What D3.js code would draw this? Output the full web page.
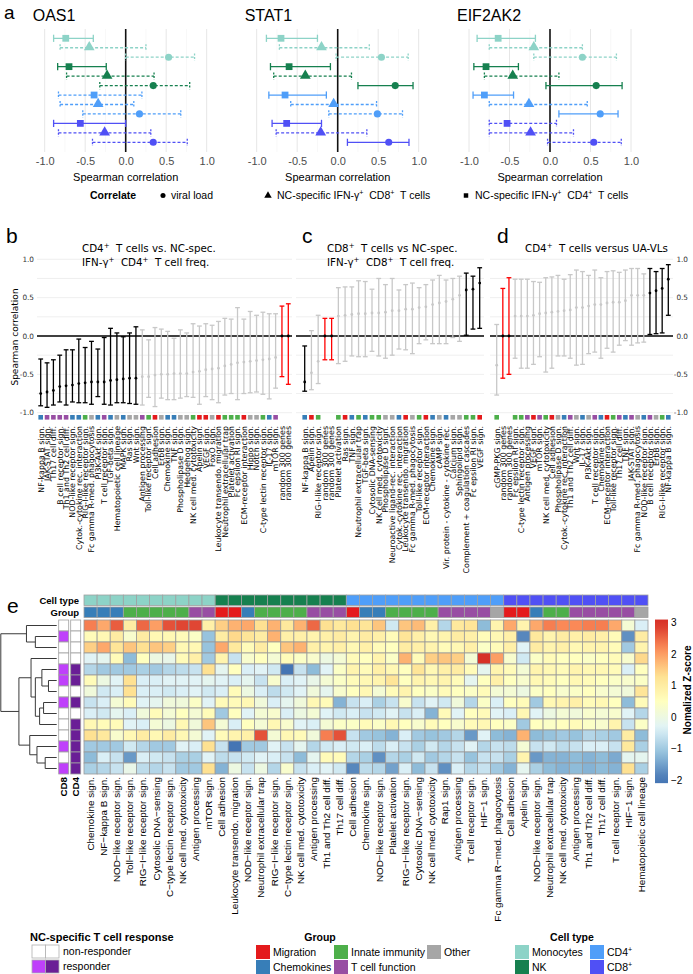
<!DOCTYPE html>
<html><head><meta charset="utf-8">
<script src="https://cdn.jsdelivr.net/npm/d3@7"></script>
<style>body{margin:0;background:#fff}svg{display:block}text{white-space:pre}</style>
</head><body>
<svg id="c" width="693" height="974"></svg>
<script>
// ---------------- DATA ----------------
// Panel a: rows per gene, order per cell type: CD4 NC-spec (square), CD8 NC-spec (triangle), viral load (circle)
// [estimate, lower, upper, solid(1)/dashed(0)]
const aGenes = ["OAS1","STAT1","EIF2AK2"];
const aCellTypes = ["Monocytes","NK","CD4","CD8"];
const aShapes = ["square","triangle","circle"];
const oas1 = [[-0.74,-0.89,-0.40,1],[-0.45,-0.81,0.25,0],[0.53,0.00,0.85,0],
  [-0.70,-0.84,-0.24,1],[-0.23,-0.73,0.35,0],[0.34,-0.32,0.79,0],
  [-0.39,-0.83,0.20,0],[-0.34,-0.81,0.10,0],[0.17,-0.53,0.68,0],
  [-0.56,-0.89,0.00,1],[-0.26,-0.83,0.31,0],[0.34,-0.41,0.76,0]];
const stat1 = [[-0.70,-0.88,-0.25,1],[-0.20,-0.72,0.39,0],[0.54,-0.02,0.87,0],
  [-0.60,-0.83,-0.09,1],[-0.40,-0.79,0.17,0],[0.71,0.25,0.93,1],
  [-0.65,-0.85,-0.14,1],[-0.05,-0.58,0.48,0],[0.49,-0.11,0.80,0],
  [-0.63,-0.81,-0.20,1],[-0.21,-0.76,0.36,0],[0.63,0.12,0.88,1]];
const eif2ak2 = [[-0.64,-0.90,-0.18,1],[-0.20,-0.75,0.40,0],[0.40,-0.20,0.82,0],
  [-0.79,-0.94,-0.39,1],[-0.46,-0.81,0.11,0],[0.57,-0.05,0.89,1],
  [-0.81,-0.95,-0.45,1],[-0.26,-0.75,0.46,0],[0.62,0.11,0.84,1],
  [-0.53,-0.75,0.08,0],[-0.24,-0.75,0.29,0],[0.54,-0.03,0.88,0]];
const aTicks = [-1,-0.5,0,0.5,1];

// Panel b
const bLabels = ["NF-kappa B sign.","JAK-STAT sign.","Th17 cell diff.","B cell receptor sign.","Th1 and Th2 cell diff.","NOD-like receptor sign.","Cytok.-cytokine rec. interaction","RIG-I-like receptor sign.","Fc gamma R-med. phagocytosis","PI3K-Akt sign.","T cell receptor sign.","TGF-beta sign.","Hematopoietic cell lineage","MAPK sign.","Ras sign.","Wnt sign.","Antigen processing","Toll-like receptor sign.","Cell adhesion","ErbB sign.","Chemokine sign.","TNF sign.","Phospholipase D sign.","Hedgehog sign.","NK cell med. cytotoxicity","Apelin sign.","VEGF sign.","FoxO sign.","Leukocyte transendo. migration","Neutrophil extracellular trap","Platelet activation","Fc epsilon RI sign.","ECM-receptor interaction","Hippo sign.","Notch sign.","C-type lectin receptor sign.","IL-17 sign.","mTOR sign.","random 300 genes","random 300 genes"];
const bEst = [-0.75,-0.73,-0.71,-0.66,-0.65,-0.64,-0.62,-0.61,-0.60,-0.60,-0.60,-0.58,-0.57,-0.56,-0.55,-0.55,-0.53,-0.53,-0.51,-0.50,-0.50,-0.49,-0.49,-0.49,-0.47,-0.46,-0.44,-0.43,-0.42,-0.39,-0.37,-0.35,-0.34,-0.33,-0.32,-0.31,-0.30,-0.28,0,0];
const bLo = [-0.91,-0.93,-0.90,-0.86,-0.90,-0.86,-0.87,-0.87,-0.89,-0.79,-0.89,-0.90,-0.87,-0.87,-0.88,-0.89,-0.90,-0.80,-0.92,-0.81,-0.83,-0.83,-0.81,-0.79,-0.80,-0.89,-0.79,-0.83,-0.87,-0.77,-0.75,-0.83,-0.75,-0.74,-0.73,-0.76,-0.82,-0.68,-0.53,-0.63];
const bHi = [-0.30,-0.35,-0.31,-0.25,-0.18,-0.18,-0.04,-0.15,-0.07,-0.17,-0.02,0.10,0.04,-0.01,0.04,0.12,0.08,-0.05,0.11,0.09,0.06,-0.03,0.08,0.04,0.16,0.13,0.16,0.14,0.19,0.23,0.22,0.37,0.22,0.32,0.27,0.31,0.29,0.29,0.39,0.42];
const bClass = ["k","k","k","k","k","k","k","k","k","k","k","k","k","k","k","k","g","g","g","g","g","g","g","g","g","g","g","g","g","g","g","g","g","g","g","g","g","g","r","r"];
const bGroup = ["C","T","T","T","T","C","C","I","O","C","T","C","O","C","O","O","T","I","M","O","C","C","O","O","I","M","M","O","M","I","I","I","M","O","O","I","C","T","",""];

// Panel c
const cLabels = ["NF-kappa B sign.","Apelin sign.","RIG-I-like receptor sign.","random 300 genes","random 300 genes","Platelet activation","Ras sign.","TNF sign.","Neutrophil extracellular trap","TGF-beta sign.","Cytosolic DNA-sensing","NK cell med. cytotoxicity","Phospholipase D sign.","Neuroactive ligand-rec. interaction","Cytok.-cytokine rec. interaction","Leukocyte transendo. migration","Fc gamma R-med. phagocytosis","Toll-like receptor sign.","ECM-receptor interaction","Chemokine sign.","cAMP sign.","Vir. protein - cytokine - cytokine rec.","Calcium sign.","Sphingolipid sign.","Complement + coagulation cascades","Fc epsilon RI sign.","VEGF sign."];
const cEst = [-0.60,-0.48,-0.33,0,0,0.26,0.27,0.28,0.29,0.29,0.30,0.30,0.31,0.33,0.33,0.35,0.35,0.37,0.38,0.41,0.43,0.45,0.48,0.53,0.60,0.61,0.69];
const cLo = [-0.72,-0.70,-0.62,-0.31,-0.31,-0.36,-0.33,-0.26,-0.27,-0.27,-0.20,-0.26,-0.29,-0.25,-0.17,-0.18,-0.23,-0.10,-0.05,-0.10,-0.10,-0.10,-0.02,-0.07,0.01,0.09,0.10];
const cHi = [-0.13,0.07,0.27,0.23,0.23,0.63,0.64,0.64,0.72,0.71,0.61,0.75,0.67,0.75,0.60,0.67,0.69,0.63,0.67,0.73,0.79,0.73,0.75,0.78,0.82,0.78,0.89];
const cClass = ["k","g","g","r","r","g","g","g","g","g","g","g","g","g","g","g","g","g","g","g","g","g","g","g","k","k","k"];
const cGroup = ["C","M","I","","","I","M","C","I","C","I","I","O","O","C","M","O","I","M","C","O","C","O","O","I","I","M"];

// Panel d
const dLabels = ["cGMP-PKG sign.","random 300 genes","random 300 genes","Fc epsilon RI sign.","C-type lectin receptor sign.","Antigen processing","VEGF sign.","mTOR sign.","NK cell med. cytotoxicity","Cell adhesion","Phospholipase D sign.","Cytok.-cytokine rec. interaction","Th1 and Th2 cell diff.","Wnt sign.","IL-17 sign.","PI3K-Akt sign.","T cell receptor sign.","Chemokine sign.","ECM-receptor interaction","Toll-like receptor sign.","Th17 cell diff.","TNF sign.","JAK-STAT sign.","Fc gamma R-med. phagocytosis","NOD-like receptor sign.","B cell receptor sign.","ErbB sign.","RIG-I-like receptor sign.","NF-kappa B sign."];
const dEst = [-0.38,0,0,0.26,0.26,0.26,0.27,0.29,0.30,0.31,0.32,0.33,0.34,0.37,0.37,0.39,0.41,0.41,0.43,0.44,0.44,0.46,0.53,0.53,0.53,0.56,0.59,0.62,0.74];
const dLo = [-0.77,-0.55,-0.50,-0.29,-0.42,-0.42,-0.37,-0.27,-0.47,-0.42,-0.26,-0.26,-0.29,-0.38,-0.37,-0.23,-0.21,-0.29,-0.16,-0.21,-0.12,-0.06,-0.12,-0.09,-0.08,0.02,0.03,0.04,0.27];
const dHi = [0.15,0.62,0.76,0.74,0.74,0.74,0.71,0.70,0.76,0.77,0.79,0.74,0.80,0.86,0.84,0.79,0.86,0.76,0.84,0.85,0.83,0.86,0.88,0.88,0.81,0.88,0.84,0.88,0.93];
const dClass = ["g","r","r","g","g","g","g","g","g","g","g","g","g","g","g","g","g","g","g","g","g","g","g","g","g","k","k","k","k"];
const dGroup = ["I","","","I","I","T","M","T","I","M","O","C","T","O","C","O","T","C","M","I","T","C","T","O","C","T","O","I","C"];
const bcdTicks = [1,0.5,0,-0.5,-1];

// Panel e heatmap
const heatCols = ["Chemokine sign.","NF\u2212kappa B sign.","NOD\u2212like receptor sign.","Toll\u2212like receptor sign.","RIG\u2212I\u2212like receptor sign.","Cytosolic DNA\u2212sensing","C\u2212type lectin receptor sign.","NK cell med. cytotoxicity","Antigen processing","mTOR sign.",
 "Cell adhesion","Leukocyte transendo. migration","NOD\u2212like receptor sign.","Neutrophil extracellular trap","RIG\u2212I\u2212like receptor sign.","C\u2212type lectin receptor sign.","NK cell med. cytotoxicity","Antigen processing","Th1 and Th2 cell diff.","Th17 cell diff.",
 "Cell adhesion","Chemokine sign.","NOD\u2212like receptor sign.","Platelet activation","RIG\u2212I\u2212like receptor sign.","Cytosolic DNA\u2212sensing","NK cell med. cytotoxicity","Rap1 sign.","Antigen processing","T cell receptor sign.","HIF\u22121 sign.","Fc gamma R\u2212med. phagocytosis",
 "Cell adhesion","Apelin sign.","NOD\u2212like receptor sign.","Neutrophil extracellular trap","NK cell med. cytotoxicity","Antigen processing","Th1 and Th2 cell diff.","Th17 cell diff.","T cell receptor sign.","HIF\u22121 sign.","Hematopoietic cell lineage"];
const heatCellType = [].concat(Array(10).fill("Monocytes"),Array(10).fill("NK"),Array(12).fill("CD4"),Array(11).fill("CD8"));
const heatGroup = ["C","C","C","I","I","I","I","I","T","T", "M","M","C","I","I","I","I","T","T","T", "M","C","C","I","I","I","I","T","T","T","T","O", "M","M","C","I","I","T","T","T","T","T","O"];
const zScores = [
 [2.3,1.9,2.6,1.0,2.5,2.0,2.7,2.8,2.8,0.9, 1.5,1.8,1.9,1.3,1.8,1.1,1.8,2.5,1.3,1.1, 1.3,1.2,1.6,-0.5,1.6,1.7,0.9,-0.8,1.1,1.2,-1.2,0.8, 1.9,0.8,1.9,2.3,2.2,2.2,2.3,2.3,1.9,0.2,-0.4],
 [0.6,0.7,1.0,0.3,1.0,0.7,0.7,0.6,0.4,-1.1, 1.0,1.4,1.2,1.0,1.8,0.9,0.9,0.8,0.9,1.0, 0.8,1.0,0.9,0.6,1.2,0.9,0.7,0.8,1.0,0.9,0.6,0.7, 0.9,-1.8,1.1,0.8,1.0,0.9,1.0,0.9,0.6,-1.7,1.0],
 [1.5,1.9,1.2,1.6,1.3,1.6,1.5,0.7,0.7,-1.1, 1.9,1.1,0.6,1.0,0.5,1.6,1.8,0.9,0.8,0.9, 0.7,0.9,0.6,0.5,1.0,0.9,0.8,0.6,0.7,0.9,0.4,0.6, 0.9,-0.3,1.0,0.8,0.9,0.7,0.8,0.8,0.6,-1.0,0.8],
 [-0.3,-0.2,0.6,-1.2,0.5,0.0,-0.1,0.6,0.9,-1.0, 0.8,-0.6,0.3,0.5,0.2,0.6,0.4,0.3,0.0,0.2, 0.6,0.5,0.8,0.4,1.8,0.6,1.5,1.6,1.5,0.2,3.0,2.0, 0.3,-0.5,0.4,0.6,0.5,0.5,0.4,0.5,0.6,0.3,1.4],
 [-0.8,-1.0,-1.0,-1.0,-0.9,-1.0,-0.8,-0.7,-0.6,1.3, -0.2,0.5,-0.4,-0.3,-0.5,-2.0,-0.6,-1.2,-0.3,0.4, 0.8,0.6,0.9,0.7,0.5,1.2,0.7,0.9,1.0,0.6,-0.2,0.8, 0.6,0.2,0.8,0.7,0.6,0.8,0.7,0.7,0.6,-0.4,0.5],
 [0.6,0.0,-0.3,1.3,-0.4,-0.4,-0.3,-0.3,-0.3,-0.2, -0.3,-0.4,-0.2,-0.6,0.3,-0.4,-0.3,-0.1,0.2,0.4, 0.6,0.7,0.8,1.2,0.5,0.8,0.7,0.8,0.6,-0.2,0.5,0.9, 0.5,0.3,0.7,0.6,0.5,0.7,0.6,0.5,0.4,0.3,0.4],
 [0.1,-0.5,-0.4,1.3,-0.4,-0.4,-0.5,-0.4,-0.3,-0.5, -0.4,0.6,0.0,-0.4,-0.7,-0.5,-0.3,0.1,-0.2,0.3, 0.5,0.7,0.2,0.6,0.8,0.5,0.4,0.6,0.5,0.4,0.6,0.2, 0.2,0.0,0.4,0.5,0.3,0.4,0.5,0.3,0.2,0.1,1.2],
 [-0.6,-0.4,0.2,0.6,-0.3,-0.2,0.1,0.1,0.4,-0.3, 0.6,0.6,0.7,0.1,-0.4,-0.2,0.1,0.7,0.6,-1.3, -0.6,-0.4,-0.9,-0.6,0.3,-0.6,-0.3,-0.5,0.1,-0.8,0.4,-0.4, 0.5,0.6,-1.0,0.7,0.8,0.9,0.6,0.7,0.5,-1.2,0.6],
 [-0.4,-0.5,-0.2,-0.4,0.1,0.6,0.2,0.5,0.2,0.6, -1.0,0.5,-0.3,0.2,0.3,-0.4,0.0,0.2,-0.3,-0.5, -0.4,-0.6,-0.5,-0.3,-0.6,-0.4,-1.3,0.6,-0.3,0.5,0.6,-0.3, -0.4,0.7,-0.3,0.0,0.2,0.1,0.3,0.2,0.3,-0.3,-0.8],
 [0.7,0.6,0.6,-0.3,-0.4,0.2,0.0,0.7,0.1,1.6, 0.2,-0.4,0.5,0.2,0.7,0.3,-0.3,-0.4,0.2,0.4, 0.4,0.6,0.4,0.7,0.5,0.3,0.6,0.5,0.3,0.6,0.7,0.5, 0.4,-1.0,0.5,0.4,0.5,0.6,0.4,0.3,0.8,-0.6,0.4],
 [1.3,1.1,0.3,0.7,1.0,0.7,1.0,0.7,0.2,-0.3, 0.6,0.8,0.9,2.7,0.2,0.7,0.6,0.1,2.3,2.7, -0.6,-1.0,-1.1,-1.3,-0.4,-1.0,-1.1,-1.0,-0.8,-1.6,-0.3,-1.2, -1.3,1.8,-1.2,-1.1,-1.0,-1.1,-0.8,-0.9,-1.0,1.0,-1.2],
 [-1.0,-1.0,-1.0,-0.5,-0.8,-1.0,-1.0,-0.3,-0.4,1.3, -0.6,-2.0,-1.0,-1.0,-0.3,-0.6,-0.2,-0.8,-0.5,-0.4, -0.5,-0.4,-0.7,-0.4,-0.6,-0.9,-0.5,-0.8,-0.6,-0.3,-0.8,-0.6, -0.7,0.2,-0.6,-0.5,-0.7,-0.6,-0.4,-0.4,-0.6,1.1,-0.9],
 [-1.2,-0.4,-0.6,-1.6,-0.4,-0.5,-0.6,-0.9,-0.9,-0.3, -0.7,-0.6,-0.5,-0.3,-0.4,-0.6,-1.2,-0.2,0.6,0.6, -0.8,-0.9,-1.7,-0.8,-0.9,-0.5,-1.0,-0.8,-0.6,-1.1,-0.6,-0.6, -0.9,0.8,-1.6,-1.3,-1.3,-1.2,-1.3,-1.2,-1.4,-0.2,-0.2],
 [-0.9,-0.8,-0.6,-0.1,-0.7,-0.8,-0.6,-1.0,-1.0,1.3, -1.3,0.0,-0.6,0.0,-0.8,0.3,-0.6,-0.4,-0.3,-0.5, -1.8,-0.7,-0.8,-1.5,-0.4,-1.2,-0.6,-1.7,-0.4,-0.8,-0.6,-1.0, -1.3,-0.2,-0.9,-1.2,-1.3,-1.2,-1.3,-1.2,-1.3,1.3,-0.9]
];
const cd8Resp = [0,1,0,0,1,1,0,1,0,0,0,1,0,1];
const cd4Resp = [0,0,0,0,1,1,0,1,0,1,1,1,1,1];
// dendrogram: h = merge height, c = children (numbers = row index)
const dendro = {h:10,c:[{h:5.41,c:[0,{h:3.82,c:[1,2]}]},
  {h:6.76,c:[{h:4.59,c:[3,{h:3.82,c:[{h:2.65,c:[4,{h:1.47,c:[5,6]}]},{h:3.06,c:[{h:2.35,c:[7,8]},9]}]}]},
             {h:4.82,c:[10,{h:3.53,c:[11,{h:2.06,c:[12,13]}]}]}]}]};
const zTicks = [3,2,1,0,-1,-2];

// ---------------- STYLE ----------------
const FA = "'Liberation Sans', Arial, sans-serif";
const FD = "'DejaVu Sans', sans-serif";
const FN = "'Liberation Sans Narrow', 'Liberation Sans', Arial, sans-serif";
const ctColor = {Monocytes:"#8dd3c7", NK:"#16804f", CD4:"#4f9ef9", CD8:"#5050f5"};
const grpColor = {M:"#e41a1c", C:"#377eb8", I:"#4daf4a", T:"#984ea3", O:"#a6a6a6"};
const barColor = {k:"#000000", g:"#c8c8c8", r:"#ff0000"};

const svg = d3.select("#c");

function addSup(sel, parts){
  parts.forEach(p=>{
    const t = sel.append("tspan").text(p[0]);
    if(p[1]) t.attr("baseline-shift","super").attr("font-size","68%");
  });
}
function panelLetter(x,y,t,fs){
  svg.append("text").attr("x",x).attr("y",y).attr("font-family",FA).attr("font-size",fs||21).text(t);
}

// ---------------- PANEL A ----------------
panelLetter(4,19,"a",19);
const aData = [oas1, stat1, eif2ak2];
const aLeft = [44.7, 256.7, 469];
aData.forEach((rows, gi)=>{
  const x = d3.scaleLinear().domain([-1,1]).range([aLeft[gi], aLeft[gi]+162]);
  const y = d3.scalePoint().domain(d3.range(12)).range([38.3,142.3]);
  const g = svg.append("g");
  [-0.75,-0.25,0.25,0.75].forEach(v=>g.append("line").attr("x1",x(v)).attr("x2",x(v)).attr("y1",29).attr("y2",152).attr("stroke","#f4f4f4").attr("stroke-width",0.6));
  aTicks.filter(v=>v!==0).forEach(v=>g.append("line").attr("x1",x(v)).attr("x2",x(v)).attr("y1",29).attr("y2",152).attr("stroke","#e6e6e6").attr("stroke-width",1));
  g.append("line").attr("x1",x(0)).attr("x2",x(0)).attr("y1",29).attr("y2",152).attr("stroke","#111").attr("stroke-width",1.6);
  const ax = g.append("g").attr("transform","translate(0,154)").call(d3.axisBottom(x).tickValues(aTicks).tickFormat(d3.format(".1f")).tickSize(0).tickPadding(3));
  ax.select(".domain").remove();
  ax.selectAll("text").attr("font-family",FA).attr("font-size",11).attr("fill","#4d4d4d").text(d=>d3.format(".1f")(d).replace("\u2212","-"));
  g.append("text").attr("x",x(0)).attr("y",181).attr("text-anchor","middle").attr("font-family",FA).attr("font-size",11).text("Spearman correlation");
  g.append("text").attr("x",aLeft[gi]-12).attr("y",21).attr("font-family",FA).attr("font-size",16).text(aGenes[gi]);
  rows.forEach((r,i)=>{
    const col = ctColor[aCellTypes[Math.floor(i/3)]];
    const dash = r[3] ? null : "3,2";
    const yy = y(i);
    g.append("line").attr("x1",x(r[1])).attr("x2",x(r[2])).attr("y1",yy).attr("y2",yy).attr("stroke",col).attr("stroke-width",1.3).attr("stroke-dasharray",dash);
    [r[1],r[2]].forEach(v=>g.append("line").attr("x1",x(v)).attr("x2",x(v)).attr("y1",yy-3.6).attr("y2",yy+3.6).attr("stroke",col).attr("stroke-width",1.3).attr("stroke-dasharray",r[3]?null:"2,1.5"));
    const shp = aShapes[i%3];
    const sym = shp==="square"?d3.symbolSquare:shp==="triangle"?d3.symbolTriangle:d3.symbolCircle;
    const size = shp==="square"?46:shp==="triangle"?50:40;
    g.append("path").attr("d",d3.symbol().type(sym).size(size)()).attr("transform",`translate(${x(r[0])},${shp==="triangle"?yy-0.5:yy})`).attr("fill",col);
  });
});
(function(){
  const ly = 199;
  svg.append("text").attr("x",90).attr("y",ly).attr("font-family",FA).attr("font-weight","bold").attr("font-size",10.5).text("Correlate");
  svg.append("path").attr("d",d3.symbol().type(d3.symbolCircle).size(20)()).attr("transform",`translate(163,${ly-3.5})`).attr("fill","#000");
  svg.append("text").attr("x",171).attr("y",ly).attr("font-family",FA).attr("font-size",10.5).text("viral load");
  svg.append("path").attr("d",d3.symbol().type(d3.symbolTriangle).size(24)()).attr("transform",`translate(268,${ly-3.5})`).attr("fill","#000");
  addSup(svg.append("text").attr("x",277).attr("y",ly).attr("font-family",FA).attr("font-size",10.5),[["NC-specific IFN-\u03b3"],["+",1],["  CD8"],["+",1],["  T cells"]]);
  svg.append("path").attr("d",d3.symbol().type(d3.symbolSquare).size(20)()).attr("transform",`translate(466,${ly-3.5})`).attr("fill","#000");
  addSup(svg.append("text").attr("x",475).attr("y",ly).attr("font-family",FA).attr("font-size",10.5),[["NC-specific IFN-\u03b3"],["+",1],["  CD4"],["+",1],["  T cells"]]);
})();

// ---------------- PANELS B, C, D ----------------
const yB = d3.scaleLinear().domain([-1,1]).range([412.7,259.3]);
function drawBars(o){
  const n = o.labels.length;
  const x = d3.scalePoint().domain(d3.range(n)).range([o.x0,o.x1]);
  const g = svg.append("g");
  [-1,-0.75,-0.5,-0.25,0.25,0.5,0.75,1].forEach(v=>g.append("line").attr("x1",o.gx0).attr("x2",o.gx1).attr("y1",yB(v)).attr("y2",yB(v)).attr("stroke","#ebebeb").attr("stroke-width",0.8));
  g.append("line").attr("x1",o.gx0).attr("x2",o.gx1).attr("y1",yB(0)).attr("y2",yB(0)).attr("stroke","#000").attr("stroke-width",1.3);
  d3.range(n).forEach(i=>{
    const col = barColor[o.cls[i]];
    const xx = x(i);
    g.append("line").attr("x1",xx).attr("x2",xx).attr("y1",yB(o.lo[i])).attr("y2",yB(o.hi[i])).attr("stroke",col).attr("stroke-width",1.3);
    [o.lo[i],o.hi[i]].forEach(v=>g.append("line").attr("x1",xx-2.4).attr("x2",xx+2.4).attr("y1",yB(v)).attr("y2",yB(v)).attr("stroke",col).attr("stroke-width",1.3));
    g.append("circle").attr("cx",xx).attr("cy",yB(o.est[i])).attr("r",1.4).attr("fill",o.cls[i]==="r"?"#000":col);
    if(o.grp[i]) g.append("rect").attr("x",xx-2.3).attr("y",415).attr("width",4.6).attr("height",4.6).attr("fill",grpColor[o.grp[i]]);
    g.append("text").attr("transform",`translate(${xx+2.8},426) rotate(-90)`).attr("text-anchor","end").attr("font-family",FD).attr("font-size",7.9).text(o.labels[i]);
  });
  return g;
}
drawBars({labels:bLabels,est:bEst,lo:bLo,hi:bHi,cls:bClass,grp:bGroup,x0:40.7,x1:288.3,gx0:37,gx1:292});
drawBars({labels:cLabels,est:cEst,lo:cLo,hi:cHi,cls:cClass,grp:cGroup,x0:304.7,x1:479.7,gx0:296,gx1:484});
drawBars({labels:dLabels,est:dEst,lo:dLo,hi:dHi,cls:dClass,grp:dGroup,x0:496.7,x1:668.3,gx0:490,gx1:673});
bcdTicks.forEach(v=>{
  svg.append("text").attr("x",34).attr("y",yB(v)+2.5).attr("text-anchor","end").attr("font-family",FD).attr("font-size",7.3).attr("fill","#333").text(d3.format(".1f")(v).replace("\u2212","-"));
  svg.append("text").attr("x",688).attr("y",yB(v)+2.5).attr("text-anchor","end").attr("font-family",FD).attr("font-size",7.3).attr("fill","#333").text(d3.format(".1f")(v).replace("\u2212","-"));
});
svg.append("text").attr("transform","translate(18,337) rotate(-90)").attr("text-anchor","middle").attr("font-family",FD).attr("font-size",9).text("Spearman correlation");
panelLetter(6,243,"b"); panelLetter(302,243,"c"); panelLetter(497,243,"d");
addSup(svg.append("text").attr("x",82).attr("y",252).attr("font-family",FD).attr("font-size",10.3),[["CD4"],["+",1],["  T cells vs. NC-spec."]]);
addSup(svg.append("text").attr("x",82).attr("y",266).attr("font-family",FD).attr("font-size",10.3),[["IFN-\u03b3"],["+",1],["  CD4"],["+",1],["  T cell freq."]]);
addSup(svg.append("text").attr("x",327).attr("y",252).attr("font-family",FD).attr("font-size",10.3),[["CD8"],["+",1],["  T cells vs NC-spec."]]);
addSup(svg.append("text").attr("x",327).attr("y",266).attr("font-family",FD).attr("font-size",10.3),[["IFN-\u03b3"],["+",1],["  CD8"],["+",1],["  T cell freq."]]);
addSup(svg.append("text").attr("x",525).attr("y",252).attr("font-family",FD).attr("font-size",10.3),[["CD4"],["+",1],["  T cells versus UA-VLs"]]);

// ---------------- PANEL E ----------------
panelLetter(7,613,"e");
const hx = d3.scaleBand().domain(d3.range(heatCols.length)).range([84,648]);
const hy = d3.scaleBand().domain(d3.range(zScores.length)).range([620,774]);
const zColor = d3.scaleLinear().domain([-2,-1.1667,-0.3333,0.5,1.3333,2.1667,3])
  .range(["#4575b4","#91bfdb","#e0f3f8","#ffffbf","#fee090","#fc8d59","#d73027"]).clamp(true);
const eg = svg.append("g");
heatCols.forEach((c,i)=>{
  eg.append("rect").attr("x",hx(i)).attr("y",595).attr("width",hx.bandwidth()).attr("height",10.5).attr("fill",ctColor[heatCellType[i]]).attr("stroke","#a0a0a0").attr("stroke-width",0.8);
  eg.append("rect").attr("x",hx(i)).attr("y",607).attr("width",hx.bandwidth()).attr("height",10.5).attr("fill",grpColor[heatGroup[i]]).attr("stroke","#a0a0a0").attr("stroke-width",0.8);
});
eg.append("text").attr("x",79).attr("y",604).attr("text-anchor","end").attr("font-family",FN).attr("font-weight","bold").attr("font-size",9.5).text("Cell type");
eg.append("text").attr("x",79).attr("y",616).attr("text-anchor","end").attr("font-family",FN).attr("font-weight","bold").attr("font-size",9.5).text("Group");
zScores.forEach((row,r)=>row.forEach((v,c)=>{
  eg.append("rect").attr("x",hx(c)).attr("y",hy(r)).attr("width",hx.bandwidth()).attr("height",hy.bandwidth()).attr("fill",zColor(v)).attr("stroke","#9a9a9a").attr("stroke-width",0.8);
}));
zScores.forEach((row,r)=>{
  eg.append("rect").attr("x",58.7).attr("y",hy(r)).attr("width",10).attr("height",hy.bandwidth()).attr("fill",cd8Resp[r]?"#bf40fb":"#fff").attr("stroke","#a0a0a0").attr("stroke-width",0.8);
  eg.append("rect").attr("x",70.7).attr("y",hy(r)).attr("width",10).attr("height",hy.bandwidth()).attr("fill",cd4Resp[r]?"#6a1e96":"#fff").attr("stroke","#a0a0a0").attr("stroke-width",0.8);
});
[["CD8",63.7],["CD4",75.7]].forEach(([t,xx])=>eg.append("text").attr("transform",`translate(${xx+3.4},777) rotate(-90)`).attr("text-anchor","end").attr("font-family",FA).attr("font-weight","bold").attr("font-size",9.8).text(t));
heatCols.forEach((c,i)=>eg.append("text").attr("transform",`translate(${hx(i)+hx.bandwidth()/2+3.4},777) rotate(-90)`).attr("text-anchor","end").attr("font-family",FA).attr("font-size",9.9).text(c));
(function(){
  const dx = d3.scaleLinear().domain([0,10]).range([56.7,0.8]);
  function lay(n){
    if(typeof n==="number") return {x:dx(0), y:hy(n)+hy.bandwidth()/2};
    const a = lay(n.c[0]), b = lay(n.c[1]);
    const xn = dx(n.h);
    eg.append("path").attr("d",`M${a.x},${a.y}H${xn}V${b.y}H${b.x}`).attr("fill","none").attr("stroke","#3a3a3a").attr("stroke-width",1);
    return {x:xn, y:(a.y+b.y)/2};
  }
  lay(dendro);
})();
(function(){
  const zy = d3.scaleLinear().domain([-2,3]).range([780,622.7]);
  const defs = svg.append("defs");
  const grad = defs.append("linearGradient").attr("id","zg").attr("x1",0).attr("y1",1).attr("x2",0).attr("y2",0);
  d3.range(0,1.001,0.05).forEach(t=>grad.append("stop").attr("offset",t).attr("stop-color",zColor(-2.1+t*5.2)));
  eg.append("rect").attr("x",655).attr("y",zy(3.1)).attr("width",13).attr("height",zy(-2.1)-zy(3.1)).attr("fill","url(#zg)");
  zTicks.forEach(v=>eg.append("text").attr("x",671).attr("y",zy(v)+3.5).attr("font-family",FA).attr("font-size",10).text(v<0?"\u2212"+(-v):v));
  eg.append("text").attr("transform","translate(691,690) rotate(-90)").attr("text-anchor","middle").attr("font-family",FA).attr("font-weight","bold").attr("font-size",10).text("Nomalized Z-score");
})();
(function(){
  const lg = svg.append("g").attr("font-family",FN);
  lg.append("text").attr("x",30).attr("y",941).attr("font-weight","bold").attr("font-size",11).attr("font-family",FA).text("NC-specific T cell response");
  [[0,"#fff","#fff","non-responder"],[1,"#bf40fb","#6a1e96","responder"]].forEach(([k,c1,c2,t])=>{
    const yy = 945+k*15;
    lg.append("rect").attr("x",32).attr("y",yy).attr("width",13.5).attr("height",13).attr("fill",c1).attr("stroke","#b0b0b0").attr("stroke-width",0.8);
    lg.append("rect").attr("x",45.5).attr("y",yy).attr("width",13.5).attr("height",13).attr("fill",c2).attr("stroke","#b0b0b0").attr("stroke-width",0.8);
    lg.append("text").attr("x",63).attr("y",yy+10).attr("font-size",10.5).text(t);
  });
  lg.append("text").attr("x",320).attr("y",941).attr("text-anchor","middle").attr("font-weight","bold").attr("font-size",10.5).text("Group");
  [[256,0,"M","Migration"],[256,1,"C","Chemokines"],[334,0,"I","Innate immunity"],[334,1,"T","T cell function"],[427,0,"O","Other"]].forEach(([xx,k,gk,t])=>{
    const yy = 945+k*15;
    lg.append("rect").attr("x",xx).attr("y",yy).attr("width",14).attr("height",14).attr("fill",grpColor[gk]);
    lg.append("text").attr("x",xx+17).attr("y",yy+10.5).attr("font-size",10.5).text(t);
  });
  lg.append("text").attr("x",572).attr("y",941).attr("text-anchor","middle").attr("font-weight","bold").attr("font-size",10.5).text("Cell type");
  [[515,0,"Monocytes",[["Monocytes"]]],[515,1,"NK",[["NK"]]],[590,0,"CD4",[["CD4"],["+",1]]],[590,1,"CD8",[["CD8"],["+",1]]]].forEach(([xx,k,ck,parts])=>{
    const yy = 945+k*15;
    lg.append("rect").attr("x",xx).attr("y",yy).attr("width",14).attr("height",14).attr("fill",ctColor[ck]);
    addSup(lg.append("text").attr("x",xx+17).attr("y",yy+10.5).attr("font-size",10.5),parts);
  });
})();
</script>
</body></html>
